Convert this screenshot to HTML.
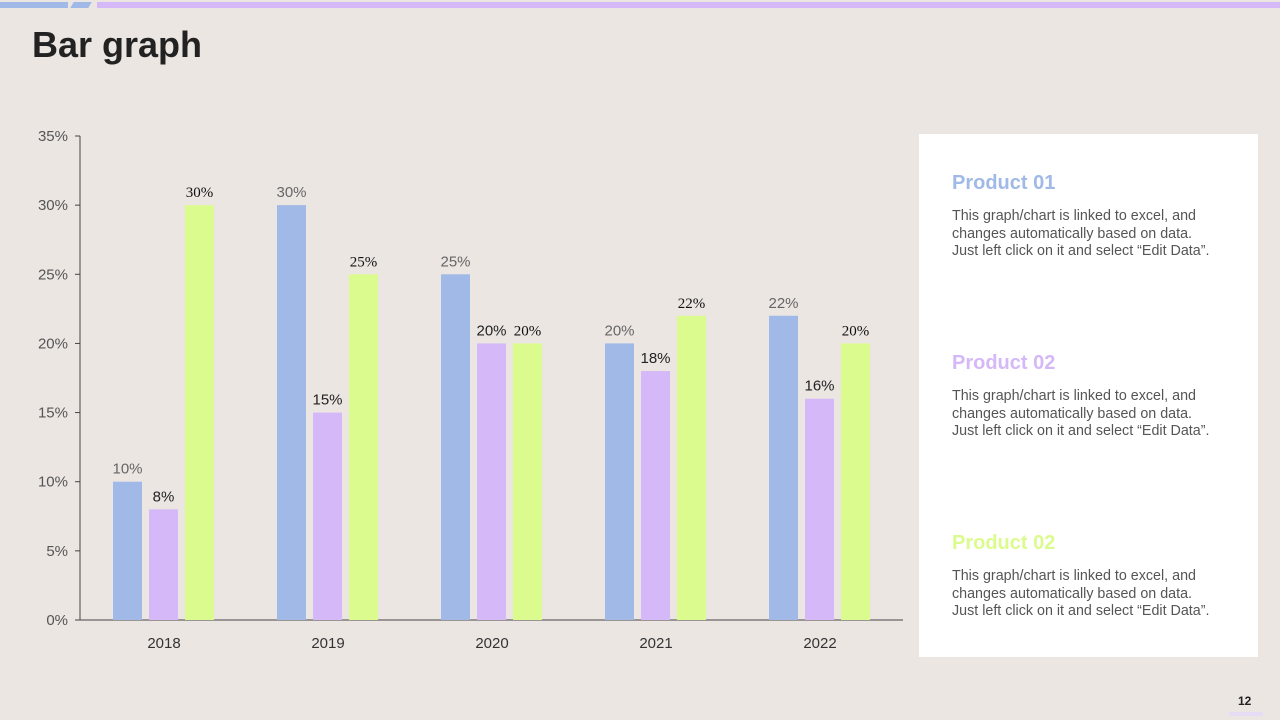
<!DOCTYPE html>
<html><head><meta charset="utf-8"><style>
body{margin:0;width:1280px;height:720px;background:#ece6e3;font-family:"Liberation Sans",sans-serif;position:relative;overflow:hidden}
.abs{position:absolute}
h1{position:absolute;left:32px;top:24px;margin:0;font-size:36px;font-weight:bold;color:#222;letter-spacing:0px}
.panel{left:919px;top:134px;width:339px;height:523px;background:#fff}
.pt{position:absolute;left:33px;font-size:20px;font-weight:bold}
.pd{position:absolute;left:33px;font-size:14.3px;color:#555;line-height:17.5px}
</style></head><body>
<div class="abs" style="left:0;top:2px;width:68px;height:6px;background:#a0b9e6"></div>
<div class="abs" style="left:72px;top:2px;width:18px;height:6px;background:#a0b9e6;transform:skewX(-30deg)"></div>
<div class="abs" style="left:97px;top:2px;width:1183px;height:6px;background:#d4b8f7"></div>
<h1>Bar graph</h1>
<svg class="abs" style="left:0;top:0" width="910" height="670" id="chart"></svg>
<div class="abs panel">
<div class="pt" style="top:38px;color:#a0b9e6">Product 01</div>
<div class="pd" style="top:74px">This graph/chart is linked to excel, and<br>changes automatically based on data.<br>Just left click on it and select “Edit Data”.</div>
<div class="pt" style="top:218px;color:#d4b8f7">Product 02</div>
<div class="pd" style="top:254px">This graph/chart is linked to excel, and<br>changes automatically based on data.<br>Just left click on it and select “Edit Data”.</div>
<div class="pt" style="top:398px;color:#dcfb8e">Product 02</div>
<div class="pd" style="top:434px">This graph/chart is linked to excel, and<br>changes automatically based on data.<br>Just left click on it and select “Edit Data”.</div>
</div>
<div class="abs" style="left:1238px;top:694px;font-size:12px;font-weight:bold;color:#222">12</div>
<div class="abs" style="left:1229px;top:712px;width:34px;height:4px;background:#e6dcf5"></div>
<script>
const categories=["2018","2019","2020","2021","2022"];
const product1=[10,30,25,20,22];
const product2=[8,15,20,18,16];
const product3=[30,25,20,22,20];
const yTicks=[0,5,10,15,20,25,30,35];
const svg=document.getElementById('chart');
const NS="http://www.w3.org/2000/svg";
const y0=620,yTop=136,yMax=35;
const y=v=>y0-(v/yMax)*(y0-yTop);
const x=i=>164+i*164;
function mk(t,a){const e=document.createElementNS(NS,t);for(const k in a)e.setAttribute(k,a[k]);svg.appendChild(e);return e;}
let ax=mk('line',{x1:80,y1:136,x2:80,y2:620,stroke:'#444','stroke-width':1});


let bx=mk('line',{x1:80,y1:620,x2:903,y2:620,stroke:'#444','stroke-width':1});


yTicks.forEach(t=>{
 let tk=mk('line',{x1:75,y1:y(t),x2:80,y2:y(t),stroke:'#444'});
 
 
 let l=mk('text',{x:68,y:y(t)+5,'text-anchor':'end','font-size':15,fill:'#555','font-family':'Liberation Sans'});
 l.textContent=t+'%';
 
 
});
const series=[[product1,'#a0b9e6',-51,'#666','Liberation Sans'],[product2,'#d4b8f7',-15,'#222','Liberation Sans'],[product3,'#dcfb8e',21,'#111','Liberation Serif']];
categories.forEach((c,i)=>{
 let l=mk('text',{x:x(i),y:648,'text-anchor':'middle','font-size':15,fill:'#333','font-family':'Liberation Sans'});
 l.textContent=c;
 
 
 series.forEach((s,si)=>{
  const v=s[0][i];
  let r=mk('rect',{x:x(i)+s[2],y:y(v),width:29,height:y0-y(v),fill:s[1]});
  
  
  let t=mk('text',{x:x(i)+s[2]+14.5,y:y(v)-8,'text-anchor':'middle','font-size':15,fill:s[3],'font-family':s[4]});
  t.textContent=v+'%';
  
  
 });
});
</script>
</body></html>
